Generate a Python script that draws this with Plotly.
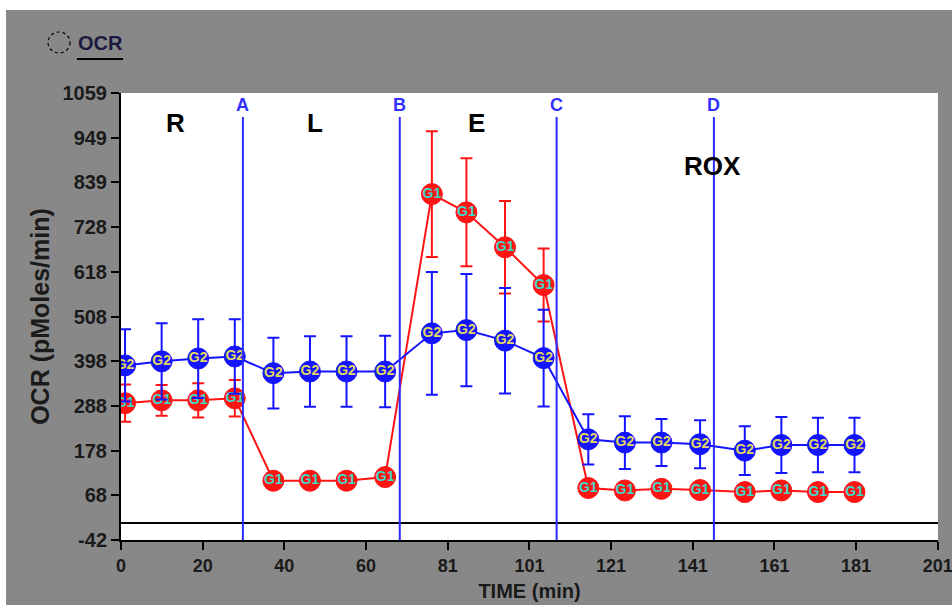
import plotly.graph_objects as go

# --- measurement data -------------------------------------------------------
time_min = [1.0, 10, 19, 28, 37.5, 46.5, 55.5, 65, 76.5, 85, 94.5, 104,
            115, 124, 133, 142.5, 153.5, 162.5, 171.5, 180.5]

g1_ocr = [295, 302, 302, 307, 104, 104, 104, 113, 810, 765, 679, 586,
          86, 80, 84, 81, 76, 80, 76, 76]
g1_err = [46, 38, 42, 45, 10, 10, 10, 10, 155, 133, 114, 90,
          8, 8, 8, 8, 8, 8, 8, 8]

g2_ocr = [388, 398, 405, 410, 369, 373, 373, 373, 467, 475, 449, 406,
          206, 198, 198, 194, 178, 192, 192, 192]
g2_err = [89, 94, 97, 92, 87, 87, 87, 88, 151, 138, 130, 119,
          62, 65, 58, 59, 60, 69, 67, 67]

# injection ports and assay phases
port_names = ["A", "B", "C", "D"]
port_times = [30.0, 68.6, 107.2, 145.9]
phase_names = ["R", "L", "E", "ROX"]
phase_x = [13.5, 47.7, 87.6, 145.6]
phase_y = [985, 985, 985, 880]

# axis ticks
y_ticks = [-42, 68, 178, 288, 398, 508, 618, 728, 839, 949, 1059]
x_tick_labels = ["0", "20", "40", "60", "81", "101", "121", "141", "161", "181", "201"]
x_tick_vals = [0, 20.1, 40.2, 60.3, 80.4, 100.5, 120.6, 140.7, 160.8, 180.9, 201]

# --- layout geometry (pixels) ----------------------------------------------
W_PX, H_PX = 952, 605
M_L, M_R, M_T, M_B = 121, 14, 93, 65
PW = W_PX - M_L - M_R
PH = H_PX - M_T - M_B


def px_x(p):
    return (p - M_L) / PW


def px_y(p):
    return (H_PX - M_B - p) / PH


BLUE = "#1414ff"
RED = "#ff1414"
GRAY = "#888888"
FONT = "Liberation Sans, Arial, sans-serif"

fig = go.Figure()


def group_trace(y, err, color, label, text_color):
    return go.Scatter(
        x=time_min, y=y,
        mode="lines+markers+text",
        line=dict(color=color, width=2),
        marker=dict(size=21, color=color, line=dict(color=color, width=1)),
        error_y=dict(type="data", array=err, visible=True, color=color,
                     thickness=2, width=6),
        text=[label] * len(y),
        textposition="middle center",
        textfont=dict(family=FONT, size=14, color=text_color, weight="bold"),
        showlegend=False,
        hoverinfo="x+y",
    )


fig.add_trace(group_trace(g1_ocr, g1_err, RED, "G1", "#40d8c8"))
fig.add_trace(group_trace(g2_ocr, g2_err, BLUE, "G2", "#e0d860"))

shapes = []
annotations = []

# zero line
shapes.append(dict(type="line", xref="paper", yref="y", x0=0, x1=1, y0=0, y1=0,
                   line=dict(color="black", width=2), layer="above"))

# injection markers
for name, t in zip(port_names, port_times):
    shapes.append(dict(type="line", xref="x", yref="y", x0=t, x1=t,
                       y0=-42, y1=1000, line=dict(color="#2a2aff", width=2),
                       layer="above"))
    annotations.append(dict(x=t, y=1029, xref="x", yref="y", text=name,
                            showarrow=False,
                            font=dict(family=FONT, size=18, color="#3030ff",
                                      weight="bold")))

# phase labels
for name, x, y in zip(phase_names, phase_x, phase_y):
    annotations.append(dict(x=x, y=y, xref="x", yref="y", text=name,
                            showarrow=False,
                            font=dict(family=FONT, size=26, color="black",
                                      weight="bold")))

# white border strips at top and left edges
shapes.append(dict(type="rect", xref="paper", yref="paper",
                   x0=px_x(-5), x1=px_x(W_PX + 5), y0=px_y(10), y1=px_y(-5),
                   fillcolor="white", line=dict(width=0), layer="below"))
shapes.append(dict(type="rect", xref="paper", yref="paper",
                   x0=px_x(-5), x1=px_x(6), y0=px_y(H_PX + 5), y1=px_y(-5),
                   fillcolor="white", line=dict(width=0), layer="below"))

# measurement key: dashed circle + underlined "OCR"
shapes.append(dict(type="circle", xref="paper", yref="paper",
                   x0=px_x(48), x1=px_x(70), y0=px_y(53), y1=px_y(32),
                   line=dict(color="black", width=1.2, dash="dot")))
shapes.append(dict(type="line", xref="paper", yref="paper",
                   x0=px_x(77), x1=px_x(123), y0=px_y(59), y1=px_y(59),
                   line=dict(color="black", width=2)))
annotations.append(dict(x=px_x(76), y=px_y(43), xref="paper", yref="paper",
                        text="OCR", showarrow=False, xanchor="left",
                        yanchor="middle",
                        font=dict(family=FONT, size=20, color="#1a1a40",
                                  weight="bold")))

fig.update_layout(
    width=W_PX, height=H_PX,
    margin=dict(l=M_L, r=M_R, t=M_T, b=M_B, autoexpand=False),
    paper_bgcolor=GRAY,
    plot_bgcolor="white",
    shapes=shapes,
    annotations=annotations,
    showlegend=False,
    xaxis=dict(
        range=[0, 201.05],
        automargin=False,
        tickmode="array", tickvals=x_tick_vals, ticktext=x_tick_labels,
        ticks="outside", ticklen=8, tickwidth=2, tickcolor="black",
        ticklabeloverflow="allow",
        showline=True, linecolor="black", linewidth=2,
        showgrid=False, zeroline=False,
        tickfont=dict(family=FONT, size=18, color="#1a1a1a", weight="bold"),
        title=dict(text="TIME (min)", standoff=9,
                   font=dict(family=FONT, size=20, color="#1a1a1a",
                             weight="bold")),
    ),
    yaxis=dict(
        range=[-42, 1059],
        automargin=False,
        tickmode="array", tickvals=y_ticks, ticktext=[str(v) for v in y_ticks],
        ticks="outside", ticklen=8, tickwidth=2, tickcolor="black",
        showline=True, linecolor="black", linewidth=2,
        showgrid=False, zeroline=False,
        tickfont=dict(family=FONT, size=20, color="#1a1a1a", weight="bold"),
        title=dict(text="OCR (pMoles/min)", standoff=6,
                   font=dict(family=FONT, size=25, color="#1a1a1a",
                             weight="bold")),
    ),
)

fig.write_html("out.html")
